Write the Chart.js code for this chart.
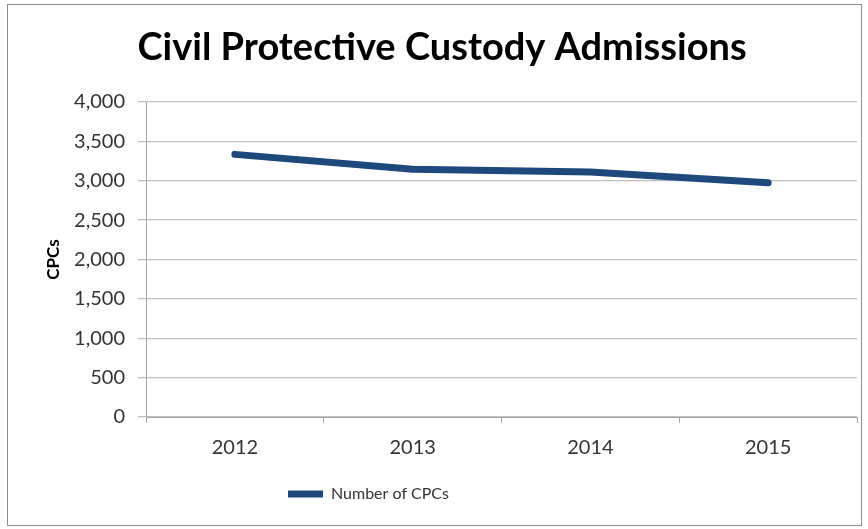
<!DOCTYPE html>
<html>
<head>
<meta charset="utf-8">
<script src="https://cdn.jsdelivr.net/npm/chart.js@4.4.0/dist/chart.umd.min.js"></script>
<style>
  html, body { margin: 0; padding: 0; background: #fff; }
  #wrap { position: relative; width: 868px; height: 529px; }
  #frame { position: absolute; left: 7px; top: 4px; width: 855px; height: 522px; border: 1px solid #8c8c8c; box-sizing: border-box; }
  canvas { position: absolute; left: 0; top: 0; }
</style>
</head>
<body>
<div id="wrap">
  <div id="frame"></div>
  <canvas id="chart" width="868" height="529"></canvas>
</div>
<script>
// 数据
const years = ['2012', '2013', '2014', '2015'];
const cpcCounts = [3335, 3145, 3110, 2975];
const yTicks = [0, 500, 1000, 1500, 2000, 2500, 3000, 3500, 4000];

const FONT = 'Lato, "Liberation Sans", sans-serif';

// 图例位置微调（原图图例偏左）
const legendShift = {
    id: 'legendShift',
    afterLayout(chart) {
        const lg = chart.legend;
        lg.left = 288 - lg.options.labels.padding;
    }
};

new Chart(document.getElementById('chart'), {
    type: 'line',
    data: {
        labels: years,
        datasets: [{
            label: 'Number of CPCs',
            data: cpcCounts,
            borderColor: '#1f497d',
            backgroundColor: '#1f497d',
            borderWidth: 7,
            borderCapStyle: 'round',
            borderJoinStyle: 'round',
            pointRadius: 0,
            tension: 0
        }]
    },
    plugins: [legendShift],
    options: {
        responsive: false,
        animation: false,
        layout: { padding: { left: 27, right: 11, top: 0, bottom: 17 } },
        plugins: {
            title: {
                display: true,
                text: 'Civil Protective Custody Admissions',
                color: '#000',
                font: { family: FONT, size: 38, weight: 'bold' },
                padding: { top: 25, bottom: 31.4 }
            },
            legend: {
                position: 'bottom',
                align: 'start',
                labels: {
                    usePointStyle: true,
                    pointStyle: 'line',
                    pointStyleWidth: 35,
                    color: '#333',
                    font: { family: FONT, size: 16 },
                    padding: 10
                }
            },
            tooltip: { enabled: false }
        },
        scales: {
            x: {
                offset: true,
                afterFit: s => { s.height = 59; },
                grid: {
                    offset: true,
                    drawOnChartArea: false,
                    drawTicks: true,
                    tickLength: 6,
                    color: '#a6a6a6'
                },
                border: { color: '#a6a6a6' },
                ticks: { color: '#333', font: { family: FONT, size: 20 }, padding: 13 }
            },
            y: {
                min: 0,
                max: 4000,
                afterFit: s => { s.width = 119; },
                afterBuildTicks: axis => { axis.ticks = yTicks.map(v => ({ value: v })); },
                title: {
                    display: true,
                    text: 'CPCs',
                    color: '#000',
                    font: { family: FONT, size: 17, weight: 'bold' },
                    padding: { top: 16, bottom: 0 }
                },
                grid: { color: '#bfbfbf', tickLength: 8, lineWidth: 1.3 },
                border: { color: '#a6a6a6' },
                ticks: {
                    color: '#333',
                    font: { family: FONT, size: 20 },
                    padding: 13,
                    callback: v => v.toLocaleString('en-US')
                }
            }
        }
    }
});
</script>
</body>
</html>
